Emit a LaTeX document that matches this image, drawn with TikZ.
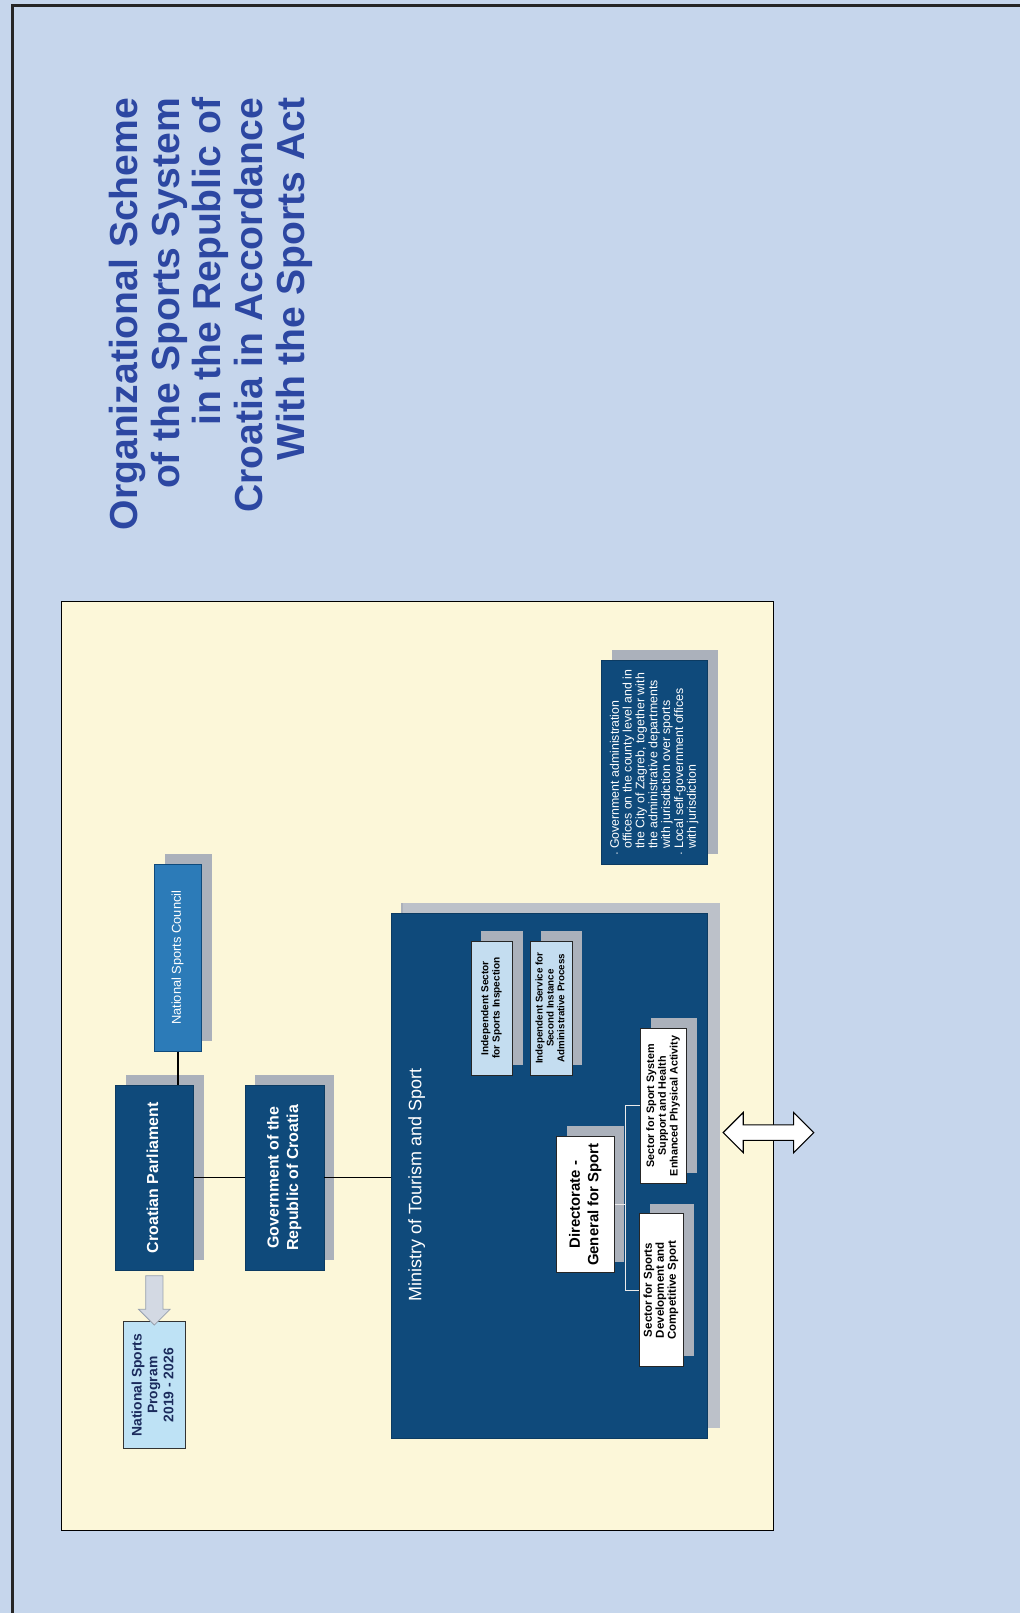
\documentclass[tikz,border=0pt]{standalone}
\usepackage{fontspec}
\setmainfont{Liberation Sans}
\usetikzlibrary{shadows,shapes.arrows,calc}
\definecolor{bgblue}{HTML}{C6D6EC}
\definecolor{cream}{HTML}{FCF7D9}
\definecolor{titleblue}{HTML}{2C47A2}
\definecolor{navy}{HTML}{0F4A7B}
\definecolor{midblue}{HTML}{2C7BB8}
\definecolor{paleblue}{HTML}{BEE2F5}
\definecolor{lightbox}{HTML}{C4DDF0}
\definecolor{shadowgray}{HTML}{ABB1BB}
\definecolor{arrowfill}{HTML}{D3D9E3}
\definecolor{arrowline}{HTML}{98A1AE}
\definecolor{darktext}{HTML}{1B2B5C}
\newcommand{\rtext}[2]{\rotatebox{90}{#1\begin{tabular}{@{}c@{}}#2\end{tabular}}}
\tikzset{
  shbox/.style={general shadow={fill=shadowgray, shadow xshift=10pt, shadow yshift=10pt}},
  navybox/.style={shbox, rectangle, fill=navy, draw=navy!80!black, line width=0.6pt, inner sep=0pt, text=white},
  councilbox/.style={shbox, rectangle, fill=midblue, draw=navy, line width=0.6pt, inner sep=0pt, text=white},
  programbox/.style={rectangle, fill=paleblue, draw=black!80, line width=1pt, inner sep=0pt, text=darktext},
  lightunit/.style={shbox, rectangle, fill=lightbox, draw=black!85, line width=0.8pt, inner sep=0pt, text=black},
  whiteunit/.style={shbox, rectangle, fill=white, draw=black!85, line width=0.8pt, inner sep=0pt, text=black},
  link/.style={draw=black, line width=1.1pt},
  wlink/.style={draw=white!92!black, line width=0.9pt}
}
\begin{document}
\begin{tikzpicture}[x=1pt,y=-1pt]
\useasboundingbox (0,0) rectangle (992,1568);
\fill[bgblue] (0,0) rectangle (992,1568);
\draw[line width=2.8pt, black!85] (12,1568) -- (12,5) -- (992,5);
\draw[fill=cream, line width=1.2pt] (60,585) rectangle (752,1488);

% title
\node[rotate=90, anchor=north east, align=right, text=titleblue, inner sep=0pt,
      font=\fontsize{38}{40.5}\selectfont\bfseries] (title) at (106,95)
  {Organizational Scheme\\of the Sports System\\in the Republic of\\Croatia in Accordance\\With the Sports Act};

% top level
\node[councilbox, minimum width=46, minimum height=182] (nsc) at (173,931)
  {\rtext{\fontsize{12.5}{14}\selectfont}{National Sports Council}};
\node[navybox, minimum width=76, minimum height=180] (parl) at (150,1145)
  {\rtext{\fontsize{15.5}{19}\selectfont\bfseries}{Croatian Parliament}};
\node[navybox, minimum width=77, minimum height=180] (gov) at (276.5,1145)
  {\rtext{\fontsize{15.5}{19}\selectfont\bfseries}{Government of the\\Republic of Croatia}};
\node[programbox, minimum width=60, minimum height=123] (nsp) at (150,1346.5)
  {\rtext{\fontsize{13.5}{15.5}\selectfont\bfseries}{National Sports\\Program\\2019 - 2026}};

% ministry
\node[navybox, general shadow={fill=shadowgray!80!white, shadow xshift=12pt, shadow yshift=10pt},
      minimum width=308, minimum height=510] (min) at (534,1143) {};
\node[rotate=90, text=white, inner sep=0pt, font=\fontsize{17.5}{20}\selectfont] (mintext) at (405,1152)
  {Ministry of Tourism and Sport};
\node[lightunit, minimum width=40, minimum height=130] (isi) at (478,980)
  {\rtext{\fontsize{9.8}{11}\selectfont\bfseries}{Independent Sector\\for Sports Inspection}};
\node[lightunit, minimum width=40, minimum height=130] (iss) at (536,980)
  {\rtext{\fontsize{9.5}{10.5}\selectfont\bfseries}{Independent Service for\\Second Instance\\Administrative Process}};
\node[whiteunit, minimum width=56, minimum height=132] (dir) at (569,1171)
  {\rtext{\fontsize{14.5}{18}\selectfont\bfseries}{Directorate -\\General for Sport}};
\node[whiteunit, minimum width=45, minimum height=150] (secone) at (645,1075)
  {\rtext{\fontsize{10.5}{11.5}\selectfont\bfseries}{Sector for Sport System\\Support and Health\\Enhanced Physical Activity}};
\node[whiteunit, minimum width=43, minimum height=148] (sectwo) at (643,1254)
  {\rtext{\fontsize{11.2}{11.5}\selectfont\bfseries}{Sector for Sports\\Development and\\Competitive Sport}};

% government offices
\node[navybox, minimum width=103, minimum height=198] (gof) at (636.5,741)
  {\rotatebox{90}{\fontsize{12}{12.5}\selectfont\begin{tabular}{@{}l@{\hspace{4pt}}l@{}}
  {\tiny\textbullet} & Government administration\\
   & offices on the county level and in\\
   & the City of Zagreb, together with\\
   & the administrative departments\\
   & with jurisdiction over sports\\
  {\tiny\textbullet} & Local self-government offices\\
   & with jurisdiction
  \end{tabular}}};

% connectors
\draw[link] (nsc.south) -- (nsc.south |- parl.north);
\draw[link] (parl.east) -- (gov.west);
\draw[link] (gov.east) -- (gov.east -| min.west);
\draw[wlink] (dir.east) -- ++(11,0) coordinate (br);
\draw[wlink] (secone.west) -| (br) |- (sectwo.west);

% arrows
\node[single arrow, rotate=-90, fill=arrowfill, draw=arrowline, line width=0.7pt,
      minimum height=48, inner sep=8pt, single arrow head extend=7pt] (down) at ($(parl.south)!0.5!(nsp.north)$) {};
\node[double arrow, fill=white, draw=black, line width=1.1pt, minimum height=88,
      inner sep=7pt, double arrow head extend=12pt] (dbl) at (747,1101) {};
\end{tikzpicture}
\end{document}
